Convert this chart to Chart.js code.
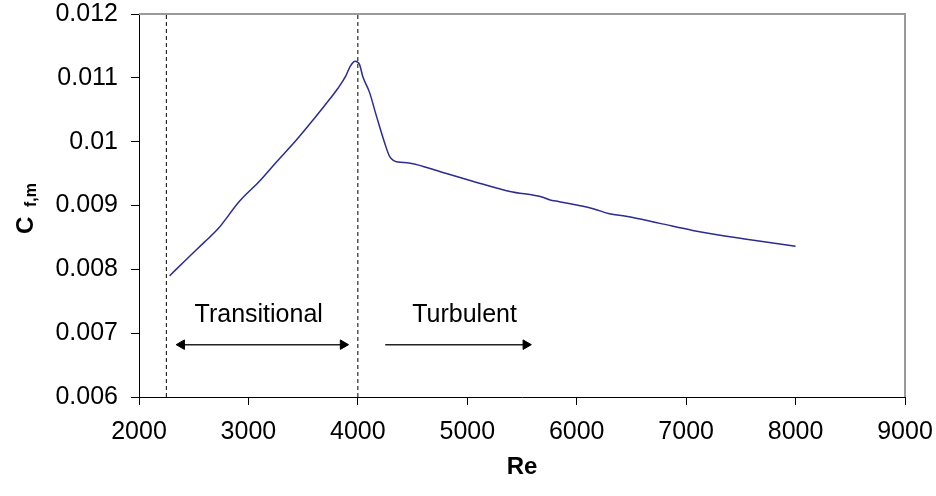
<!DOCTYPE html>
<html><head><meta charset="utf-8">
<script src="https://cdn.jsdelivr.net/npm/chart.js@4/dist/chart.umd.min.js"></script>
<style>html,body{margin:0;padding:0;background:#fff}</style>
</head><body>
<canvas id="c" width="936" height="496"></canvas>
<script>
// ---- data ----
const reValues = [2280, 2430, 2600, 2720, 2920, 3100, 3250, 3440, 3600, 3740, 3820, 3890, 3930, 3975, 4015, 4045, 4105, 4170, 4245, 4290, 4365, 4450, 4660, 4810, 5110, 5390, 5690, 5750, 5840, 6150, 6300, 6450, 6760, 7060, 7520, 8000];
const cfValues = [0.00790, 0.00815, 0.00843, 0.00863, 0.00907, 0.00938, 0.00967, 0.01003, 0.01036, 0.01066, 0.01084, 0.01103, 0.01118, 0.01126, 0.01121, 0.01102, 0.01078, 0.01040, 0.00998, 0.00977, 0.00968, 0.00967, 0.00958, 0.00950, 0.00935, 0.00922, 0.00913, 0.00909, 0.00906, 0.00895, 0.00887, 0.00883, 0.00872, 0.00861, 0.00848, 0.00836];
const xTicks = [2000, 3000, 4000, 5000, 6000, 7000, 8000, 9000];
const yTicks = [0.006, 0.007, 0.008, 0.009, 0.010, 0.011, 0.012];
const yTickLabels = ['0.006', '0.007', '0.008', '0.009', '0.01', '0.011', '0.012'];
const regimeBounds = [2250, 4000];
const transitionalArrowRe = [2390, 3865];
const turbulentArrowRe = [4250, 5535];
const arrowCf = 0.00682;
const regimeLabels = ['Transitional', 'Turbulent'];
const regimeLabelRe = [3094, 4975];
const regimeLabelCf = 0.00718;
const xTitle = 'Re';
const yTitleMain = 'C';
const yTitleSub = 'f,m';

const FONT = '"Liberation Sans", Arial, sans-serif';
const curve = reValues.map((r, i) => ({x: r, y: cfValues[i]}));
const boundSets = regimeBounds.map(r => ({
  data: [{x: r, y: yTicks[0]}, {x: r, y: yTicks[yTicks.length - 1]}],
  showLine: true, borderColor: '#000', borderWidth: 1, borderDash: [4, 3], pointRadius: 0
}));

const overlay = {
  id: 'overlay',
  afterDraw(chart) {
    const {ctx, chartArea: a, scales: {x, y}} = chart;
    ctx.save();
    ctx.strokeStyle = '#9a9a9a'; ctx.lineWidth = 2;
    ctx.beginPath(); ctx.moveTo(a.left, a.top); ctx.lineTo(a.right, a.top); ctx.lineTo(a.right, a.bottom); ctx.stroke();
    ctx.fillStyle = '#000';
    ctx.font = '25px ' + FONT; ctx.textAlign = 'center'; ctx.textBaseline = 'alphabetic';
    regimeLabels.forEach((t, i) => ctx.fillText(t, x.getPixelForValue(regimeLabelRe[i]), y.getPixelForValue(regimeLabelCf)));
    ctx.font = 'bold 24px ' + FONT; ctx.textBaseline = 'middle';
    ctx.fillText(xTitle, (a.left + a.right) / 2, 467);
    ctx.translate(33, 234); ctx.rotate(-Math.PI / 2);
    ctx.textAlign = 'left'; ctx.textBaseline = 'alphabetic';
    ctx.font = 'bold 24px ' + FONT; ctx.fillText(yTitleMain, 0, 0);
    ctx.font = 'bold 16px ' + FONT; ctx.fillText(yTitleSub, 27, 3);
    ctx.restore();
  }
};

new Chart(document.getElementById('c'), {
  type: 'scatter',
  data: {
    datasets: [
      {data: curve, showLine: true, borderColor: '#2b2b94', borderWidth: 1.5, pointRadius: 0, cubicInterpolationMode: 'monotone'},
      ...boundSets,
      {data: transitionalArrowRe.map(r => ({x: r, y: arrowCf})), showLine: true, borderColor: '#222', borderWidth: 1.5,
       pointStyle: 'triangle', pointRadius: 5.5, pointRotation: [270, 90], pointBackgroundColor: '#000', pointBorderColor: '#000', pointBorderWidth: 1},
      {data: turbulentArrowRe.map(r => ({x: r, y: arrowCf})), showLine: true, borderColor: '#222', borderWidth: 1.5,
       pointStyle: 'triangle', pointRadius: [0, 5.5], pointRotation: [90, 90], pointBackgroundColor: '#000', pointBorderColor: '#000', pointBorderWidth: 1}
    ]
  },
  options: {
    responsive: false, animation: false, events: [],
    layout: {padding: {left: 0, top: 14, right: 31, bottom: 0}},
    plugins: {legend: {display: false}, tooltip: {enabled: false}},
    scales: {
      x: {
        type: 'linear', min: xTicks[0], max: xTicks[xTicks.length - 1],
        afterBuildTicks: s => { s.ticks = xTicks.map(v => ({value: v})); },
        afterFit: s => { s.height = 99; s.paddingLeft = 0; s.paddingRight = 0; },
        grid: {drawOnChartArea: false, drawTicks: true, tickLength: 8, tickColor: '#000'},
        border: {color: '#000', width: 1},
        ticks: {color: '#000', font: {family: FONT, size: 25}, padding: 12, maxRotation: 0, callback: v => String(v)}
      },
      y: {
        type: 'linear', min: yTicks[0], max: yTicks[yTicks.length - 1],
        afterBuildTicks: s => { s.ticks = yTicks.map(v => ({value: v})); },
        afterFit: s => { s.width = 139; s.paddingTop = 0; s.paddingBottom = 0; },
        grid: {drawOnChartArea: false, drawTicks: true, tickLength: 8, tickColor: '#000'},
        border: {color: '#000', width: 1},
        ticks: {color: '#000', font: {family: FONT, size: 25}, padding: 13,
          callback: (v) => { const i = yTicks.findIndex(t => Math.abs(t - v) < 1e-9); return i >= 0 ? yTickLabels[i] : ''; }}
      }
    }
  },
  plugins: [overlay]
});
</script>
</body></html>
